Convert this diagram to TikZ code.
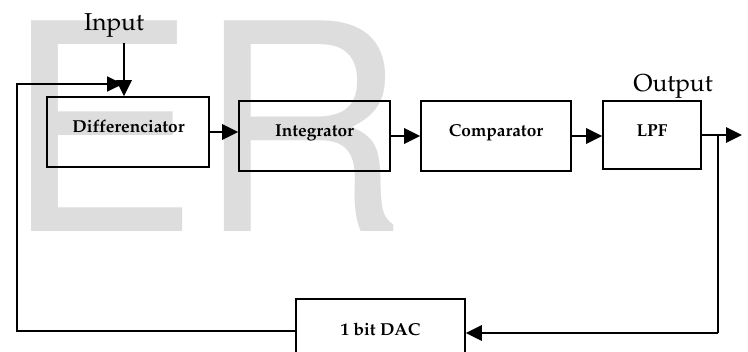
\documentclass[tikz,border=0pt]{standalone}
\usepackage[T1]{fontenc}
\usepackage{mathpazo}
\usetikzlibrary{arrows.meta}
\definecolor{wmgray}{RGB}{221,221,221}
\begin{document}
\begin{tikzpicture}[x=1pt,y=-1pt,
  box/.style={draw, line width=1.6pt, inner sep=0pt},
  lbl/.style={font=\fontsize{17.3}{20}\selectfont\bfseries, anchor=base, inner sep=0pt},
  big/.style={font=\fontsize{24.5}{28}\selectfont, anchor=base, inner sep=0pt},
  tipstyle/.style={-{Triangle[length=16pt,width=15pt]}},
  arr/.style={line width=2.8pt, tipstyle},
  fb/.style={line width=2pt}]
\useasboundingbox (0,0) rectangle (748,352);
\clip (0,0) rectangle (748,352);
% watermark
\node[anchor=base west, inner sep=0pt, text=wmgray,
      font=\fontfamily{phv}\fontsize{289}{300}\selectfont] (wm) at (5,232) {ER};
% boxes
\node[box, minimum width=162pt, minimum height=70pt] (diff) at (128,132) {};
\node[box, minimum width=151pt, minimum height=70pt] (integ) at (314.5,136) {};
\node[box, minimum width=150pt, minimum height=70pt] (comp) at (496,136) {};
\node[box, minimum width=98pt, minimum height=68pt] (lpf) at (652,135) {};
\node[box, minimum width=169pt, minimum height=64pt] (dac) at (380.5,331) {};
% labels
\node[lbl] (diffl) at (128.5,133) {Differenciator};
\node[lbl] (integl) at (314.5,137) {Integrator};
\node[lbl] (compl) at (496,137) {Comparator};
\node[lbl] (lpfl) at (652,137) {LPF};
\node[lbl] (dacl) at (380.5,336) {1 bit DAC};
\node[big] (inl) at (114,31) {Input};
\node[big] (outl) at (673,92) {Output};
% coordinates
\coordinate (inp) at (124,43);
\coordinate (fl) at (17,84);
\coordinate (fin) at (123,84);
\coordinate (tap) at (718,135);
\coordinate (out) at (742,135);
\coordinate (br) at (718,333);
% forward path
\draw[arr] (inp) -- (inp |- diff.north);
\draw[arr] (diff.east) -- (diff.east -| integ.west);
\draw[arr] (integ.east) -- (comp.west);
\draw[arr] (comp.east) -- (comp.east -| lpf.west);
\draw[arr] (lpf.east) -- (out);
% feedback
\draw[fb] (tap) -- (br);
\draw[arr] (br) -- (br -| dac.east);
\draw[fb, tipstyle] (dac.west) -| (fl) -- (fin);
\end{tikzpicture}
\end{document}
